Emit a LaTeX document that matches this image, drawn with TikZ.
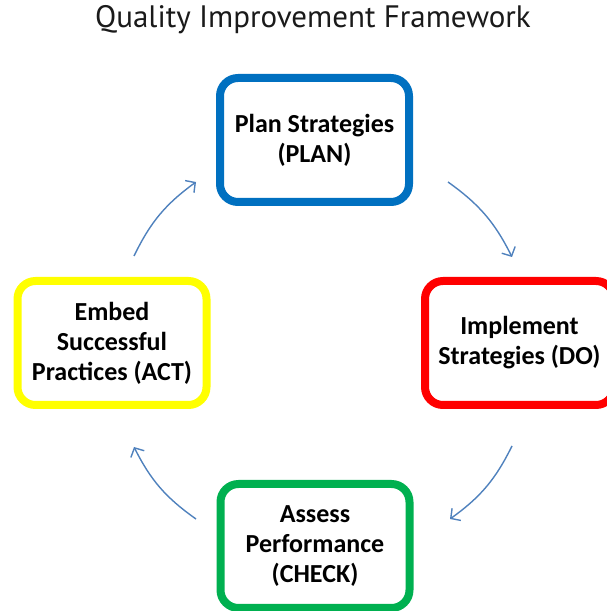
\documentclass[tikz,border=0pt]{standalone}
\usepackage{fontspec}
\setmainfont{Carlito}
\newfontfamily\titlefont{PT Sans}
\usetikzlibrary{arrows.meta}
\definecolor{cblue}{HTML}{0070C0}
\definecolor{cred}{HTML}{FF0000}
\definecolor{cyellow}{HTML}{FFFF00}
\definecolor{cgreen}{HTML}{00B050}
\definecolor{carrow}{HTML}{4F81BD}
\definecolor{ctitle}{HTML}{1A1A1A}
\tikzset{
  stagebox/.style={draw=#1, line width=8pt, rounded corners=18pt, fill=white,
    minimum width=189pt, minimum height=124pt, align=center, inner sep=2pt,
    font=\fontsize{26}{30}\selectfont\bfseries, text=black},
  cyclearrow/.style={draw=carrow, line width=1.4pt,
    -{Straight Barb[length=7pt,width=15pt,line width=1.4pt]}, bend left=14}
}
\begin{document}
\begin{tikzpicture}[x=1pt,y=1pt]
\useasboundingbox (0,0) rectangle (606,611);
\node[font=\titlefont\fontsize{31}{36}\selectfont, text=ctitle] (title) at (313,591) {Quality Improvement Framework};
\node[stagebox=cblue] (plan) at (314.5,471) {Plan Strategies\\(PLAN)};
\node[stagebox=cred] (do) at (519.5,268) {Implement\\Strategies (DO)};
\node[stagebox=cgreen] (check) at (315,65) {Assess\\Performance\\(CHECK)};
\node[stagebox=cyellow] (act) at (112,268) {Embed\\Successful\\Practices (ACT)};
\coordinate (a1s) at (448,429);
\coordinate (a1e) at (512,354);
\coordinate (a2s) at (512,165);
\coordinate (a2e) at (450,92);
\coordinate (a3s) at (196,92);
\coordinate (a3e) at (134,164);
\coordinate (a4s) at (134,355);
\coordinate (a4e) at (196,429);
\draw[cyclearrow] (a1s) to (a1e);
\draw[cyclearrow] (a2s) to (a2e);
\draw[cyclearrow] (a3s) to (a3e);
\draw[cyclearrow] (a4s) to (a4e);
\end{tikzpicture}
\end{document}
